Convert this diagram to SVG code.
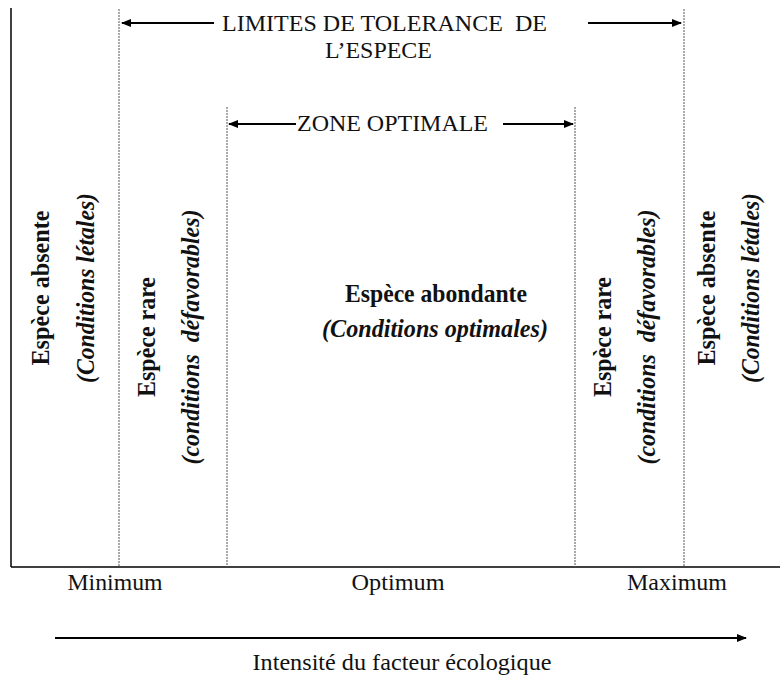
<svg xmlns="http://www.w3.org/2000/svg" width="780" height="682" viewBox="0 0 780 682">
<defs>
<marker id="ah" viewBox="0 0 10 10" refX="9" refY="5" markerWidth="10" markerHeight="10" markerUnits="userSpaceOnUse" orient="auto-start-reverse">
<path d="M0,1 L10,5 L0,9 Z" fill="#000"/>
</marker>
<style>
.t{font-family:"Liberation Serif","Times New Roman",serif;font-size:23px;fill:#111;white-space:pre}
.b{font-weight:bold;font-size:25px}
.i{font-style:italic}
.axis{stroke:#000;stroke-width:1.5;fill:none}
.dot{stroke:#555;stroke-width:1;stroke-dasharray:2,1;fill:none}
.arr{stroke:#000;stroke-width:2;fill:none}
</style>
</defs>
<rect width="780" height="682" fill="#fff"/>
<g id="axes">
<line class="axis" x1="11" y1="8" x2="11" y2="567"/>
<line class="axis" x1="11" y1="567" x2="780" y2="567"/>
</g>
<g id="limits">
<line class="dot" x1="119" y1="9" x2="119" y2="567"/>
<line class="dot" x1="227" y1="107" x2="227" y2="567"/>
<line class="dot" x1="575" y1="107" x2="575" y2="567"/>
<line class="dot" x1="684" y1="9" x2="684" y2="567"/>
</g>
<g id="connectors">
<line class="arr" x1="214" y1="23" x2="122" y2="23" marker-end="url(#ah)"/>
<line class="arr" x1="588" y1="23" x2="681" y2="23" marker-end="url(#ah)"/>
<line class="arr" x1="296" y1="124" x2="229" y2="124" marker-end="url(#ah)"/>
<line class="arr" x1="503" y1="124" x2="573" y2="124" marker-end="url(#ah)"/>
<line class="arr" x1="55" y1="638" x2="746" y2="638" marker-end="url(#ah)"/>
</g>
<g id="tolerance-label">
<text class="t" x="222" y="31" font-size="25" textLength="325" lengthAdjust="spacingAndGlyphs" xml:space="preserve">LIMITES DE TOLERANCE  DE</text>
<text class="t" x="325" y="58" font-size="25" textLength="107" lengthAdjust="spacingAndGlyphs">L’ESPECE</text>
</g>
<g id="optimal-label">
<text class="t" x="297" y="131" font-size="24" textLength="191" lengthAdjust="spacingAndGlyphs">ZONE OPTIMALE</text>
</g>
<g id="zone-absent-left">
<text class="t b" transform="translate(49,288) rotate(-90)" text-anchor="middle" textLength="155" lengthAdjust="spacingAndGlyphs">Espèce absente</text>
<text class="t b i" transform="translate(94,288) rotate(-90)" text-anchor="middle" textLength="190" lengthAdjust="spacingAndGlyphs">(Conditions létales)</text>
</g>
<g id="zone-rare-left">
<text class="t b" transform="translate(155,337) rotate(-90)" text-anchor="middle" textLength="120" lengthAdjust="spacingAndGlyphs">Espèce rare</text>
<text class="t b i" transform="translate(199,337) rotate(-90)" text-anchor="middle" textLength="255" lengthAdjust="spacingAndGlyphs" xml:space="preserve">(conditions  défavorables)</text>
</g>
<g id="zone-optimal">
<text class="t b" x="436" y="302" text-anchor="middle" textLength="182" lengthAdjust="spacingAndGlyphs">Espèce abondante</text>
<text class="t b i" x="435" y="337" text-anchor="middle" textLength="226" lengthAdjust="spacingAndGlyphs">(Conditions optimales)</text>
</g>
<g id="zone-rare-right">
<text class="t b" transform="translate(611,337) rotate(-90)" text-anchor="middle" textLength="120" lengthAdjust="spacingAndGlyphs">Espèce rare</text>
<text class="t b i" transform="translate(655,337) rotate(-90)" text-anchor="middle" textLength="255" lengthAdjust="spacingAndGlyphs" xml:space="preserve">(conditions  défavorables)</text>
</g>
<g id="zone-absent-right">
<text class="t b" transform="translate(715,288) rotate(-90)" text-anchor="middle" textLength="155" lengthAdjust="spacingAndGlyphs">Espèce absente</text>
<text class="t b i" transform="translate(759,288) rotate(-90)" text-anchor="middle" textLength="190" lengthAdjust="spacingAndGlyphs">(Conditions létales)</text>
</g>
<g id="axis-labels">
<text class="t" x="115" y="590" text-anchor="middle" font-size="24" textLength="95" lengthAdjust="spacingAndGlyphs">Minimum</text>
<text class="t" x="398" y="590" text-anchor="middle" font-size="24" textLength="93" lengthAdjust="spacingAndGlyphs">Optimum</text>
<text class="t" x="677" y="590" text-anchor="middle" font-size="24" textLength="100" lengthAdjust="spacingAndGlyphs">Maximum</text>
<text class="t" x="402" y="670" text-anchor="middle" font-size="24" textLength="299" lengthAdjust="spacingAndGlyphs">Intensité du facteur écologique</text>
</g>
</svg>
